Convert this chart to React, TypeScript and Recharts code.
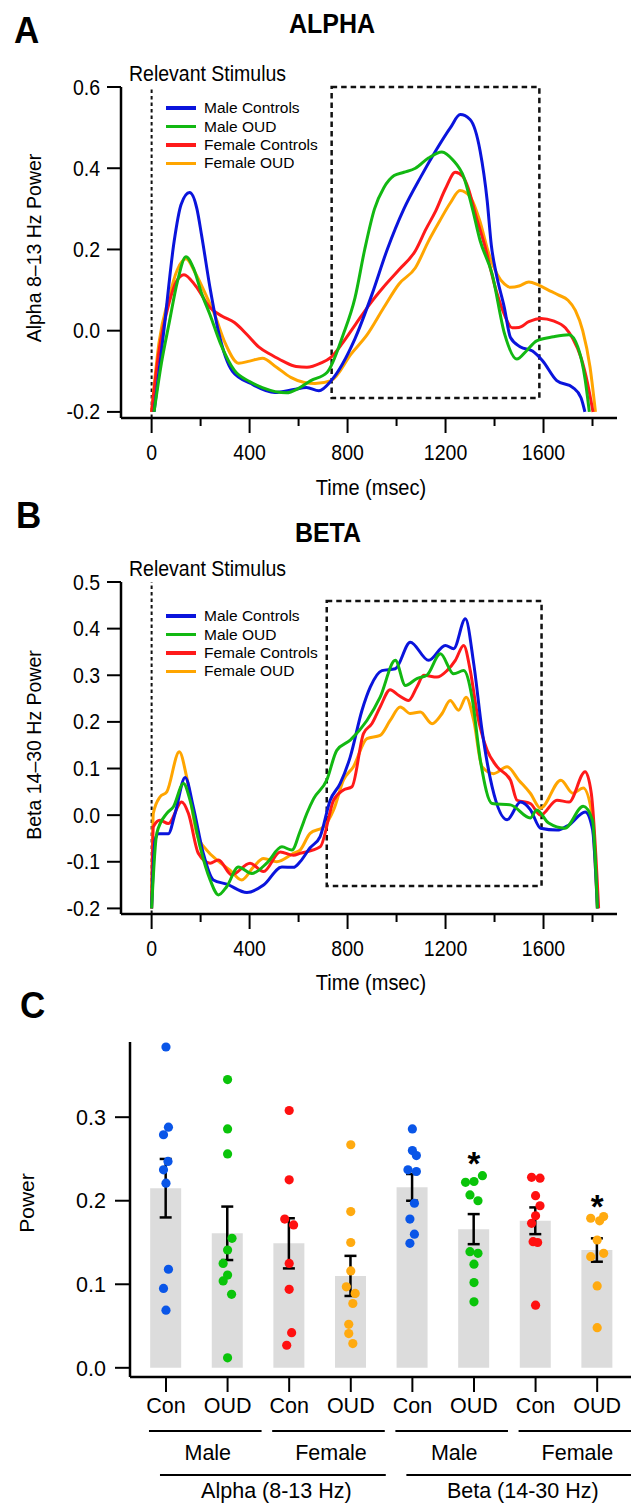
import React from "react";
import {
  LineChart,
  Line,
  XAxis,
  YAxis,
  ReferenceLine,
  ReferenceArea,
  Legend,
  ComposedChart,
  Bar,
  ErrorBar,
  Scatter,
} from "recharts";

const FONT = "'Liberation Sans', Arial, Helvetica, sans-serif";

// ---- shared ----
const groupNames = ["Male Controls", "Male OUD", "Female Controls", "Female OUD"];
const lineColors = ["#0a14dc", "#12b812", "#ff1a1a", "#ffa500"];
const timeTicks = [0, 200, 400, 600, 800, 1000, 1200, 1400, 1600, 1800];

// ---- panel A (alpha), [msec, power] ----
const alphaMaleCon = [
  [10, -0.2], [50, 0.0], [92, 0.22], [120, 0.31], [155, 0.34], [185, 0.3], [204, 0.235],
  [240, 0.1], [272, 0.0], [330, -0.1], [405, -0.13], [503, -0.152], [580, -0.145],
  [632, -0.14], [683, -0.148], [733, -0.123], [830, -0.02], [900, 0.09], [962, 0.2],
  [1030, 0.3], [1100, 0.38], [1160, 0.443], [1220, 0.5], [1260, 0.532], [1300, 0.52],
  [1341, 0.443], [1370, 0.32], [1387, 0.21], [1407, 0.14], [1440, 0.057], [1465, -0.017],
  [1506, -0.04], [1555, -0.05], [1596, -0.074], [1654, -0.123], [1720, -0.14],
  [1753, -0.165], [1769, -0.2],
];
const alphaMaleOud = [
  [10, -0.2], [40, -0.08], [72, 0.02], [105, 0.12], [140, 0.182], [170, 0.155], [205, 0.09],
  [238, 0.04], [280, -0.03], [338, -0.098], [400, -0.125], [452, -0.14], [551, -0.153],
  [600, -0.142], [650, -0.123], [716, -0.103], [782, -0.01], [830, 0.08], [870, 0.2],
  [910, 0.3], [948, 0.352], [990, 0.382], [1030, 0.39], [1077, 0.4], [1130, 0.425],
  [1185, 0.44], [1230, 0.42], [1275, 0.377], [1310, 0.3], [1341, 0.222], [1390, 0.14],
  [1441, -0.008], [1491, -0.07], [1530, -0.05], [1572, -0.025], [1640, -0.015],
  [1704, -0.01], [1740, -0.04], [1770, -0.12], [1787, -0.2],
];
const alphaFemCon = [
  [0, -0.2], [30, -0.05], [72, 0.07], [100, 0.12], [132, 0.138], [180, 0.11], [238, 0.057],
  [290, 0.035], [338, 0.02], [390, -0.01], [437, -0.04], [490, -0.06], [536, -0.075],
  [590, -0.088], [634, -0.09], [690, -0.08], [733, -0.065], [780, -0.03], [832, 0.015],
  [890, 0.065], [946, 0.107], [1010, 0.15], [1077, 0.197], [1120, 0.25], [1160, 0.295],
  [1200, 0.35], [1240, 0.39], [1270, 0.38], [1292, 0.352], [1325, 0.28], [1358, 0.214],
  [1407, 0.098], [1440, 0.04], [1472, 0.007], [1500, 0.008], [1540, 0.022], [1590, 0.03],
  [1640, 0.024], [1689, 0.007], [1720, -0.02], [1753, -0.066], [1780, -0.13], [1802, -0.2],
];
const alphaFemOud = [
  [0, -0.2], [30, -0.03], [70, 0.08], [105, 0.15], [140, 0.177], [180, 0.14], [220, 0.09],
  [257, 0.04], [300, -0.03], [355, -0.08], [400, -0.075], [452, -0.068], [510, -0.09],
  [568, -0.115], [620, -0.127], [667, -0.13], [733, -0.123], [815, -0.057], [880, -0.01],
  [948, 0.057], [1010, 0.115], [1077, 0.155], [1130, 0.22], [1176, 0.27], [1220, 0.315],
  [1259, 0.345], [1300, 0.33], [1340, 0.27], [1373, 0.197], [1410, 0.14], [1440, 0.115],
  [1466, 0.107], [1500, 0.11], [1540, 0.12], [1580, 0.112], [1620, 0.1], [1660, 0.088],
  [1700, 0.075], [1730, 0.05], [1760, 0.0], [1790, -0.09], [1812, -0.2],
];

// ---- panel B (beta), [msec, power] ----
const betaMaleCon = [
  [0, -0.2], [14, -0.054], [27, -0.04], [68, -0.04], [96, 0.004], [137, 0.081], [170, 0.018],
  [211, -0.082], [252, -0.139], [307, -0.148], [389, -0.166], [457, -0.15], [532, -0.111],
  [579, -0.112], [606, -0.1], [647, -0.07], [688, -0.046], [729, 0.032], [770, 0.068],
  [811, 0.125], [859, 0.225], [893, 0.275], [940, 0.31], [995, 0.314], [1056, 0.371],
  [1131, 0.332], [1199, 0.364], [1233, 0.357], [1281, 0.421], [1315, 0.325], [1349, 0.182],
  [1390, 0.061], [1451, -0.01], [1506, 0.028], [1546, 0.012], [1588, -0.028],
  [1655, -0.032], [1704, -0.021], [1770, 0.007], [1800, -0.03], [1820, -0.2],
];
const betaMaleOud = [
  [0, -0.2], [21, -0.039], [62, 0.004], [89, 0.018], [130, 0.068], [157, 0.032],
  [198, -0.068], [239, -0.139], [273, -0.171], [307, -0.153], [354, -0.111], [409, -0.125],
  [470, -0.103], [532, -0.068], [573, -0.075], [606, -0.035], [634, 0.004], [661, 0.035],
  [715, 0.075], [756, 0.139], [811, 0.161], [879, 0.203], [933, 0.253], [995, 0.332],
  [1036, 0.278], [1083, 0.293], [1124, 0.3], [1179, 0.346], [1233, 0.303], [1274, 0.31],
  [1308, 0.253], [1342, 0.118], [1390, 0.025], [1465, 0.022], [1546, -0.006], [1572, 0.011],
  [1621, -0.017], [1687, -0.028], [1762, 0.019], [1800, -0.011], [1820, -0.2],
];
const betaFemCon = [
  [0, -0.2], [7, -0.025], [34, -0.011], [68, -0.018], [123, 0.028], [150, 0.004],
  [191, -0.082], [239, -0.103], [273, -0.096], [327, -0.128], [402, -0.103], [457, -0.121],
  [525, -0.079], [579, -0.086], [606, -0.082], [688, -0.068], [743, 0.032], [783, 0.054],
  [818, 0.061], [865, 0.175], [899, 0.196], [933, 0.232], [974, 0.269], [1008, 0.257],
  [1049, 0.246], [1083, 0.275], [1111, 0.3], [1165, 0.296], [1206, 0.31], [1240, 0.332],
  [1274, 0.364], [1301, 0.31], [1329, 0.218], [1370, 0.139], [1410, 0.104], [1465, 0.075],
  [1492, 0.032], [1546, 0.025], [1588, 0.0], [1655, 0.032], [1704, 0.028], [1770, 0.093],
  [1795, 0.047], [1825, -0.2],
];
const betaFemOud = [
  [0, -0.2], [7, 0.004], [34, 0.039], [62, 0.05], [113, 0.136], [143, 0.082], [184, -0.039],
  [225, -0.075], [266, -0.096], [320, -0.118], [368, -0.139], [416, -0.111], [457, -0.093],
  [511, -0.1], [579, -0.082], [606, -0.075], [647, -0.039], [702, -0.025], [743, 0.011],
  [783, 0.075], [824, 0.104], [879, 0.164], [933, 0.171], [974, 0.203], [1015, 0.232],
  [1056, 0.218], [1097, 0.221], [1145, 0.196], [1186, 0.218], [1219, 0.246], [1253, 0.225],
  [1284, 0.253], [1315, 0.203], [1349, 0.104], [1396, 0.089], [1451, 0.104], [1499, 0.075],
  [1546, 0.047], [1588, 0.015], [1671, 0.075], [1720, 0.047], [1762, 0.058], [1795, 0.011],
  [1820, -0.2],
];

// ---- panel C ----
const barLabels = ["Con", "OUD", "Con", "OUD", "Con", "OUD", "Con", "OUD"];
const sexLabels = ["Male", "Female", "Male", "Female"];
const bandLabels = ["Alpha (8-13 Hz)", "Beta (14-30 Hz)"];
const barMeans = [0.215, 0.161, 0.149, 0.11, 0.216, 0.166, 0.176, 0.141];
const barSem = [0.035, 0.032, 0.03, 0.024, 0.016, 0.018, 0.016, 0.014];
const dotColors = ["#0a56e8", "#0ac40a", "#ff1010", "#ffaa10", "#0a56e8", "#0ac40a", "#ff1010", "#ffaa10"];

// individual subjects: value, horizontal jitter (in bar units)
const alphaMaleConDots = [0.384, 0.288, 0.279, 0.247, 0.237, 0.221, 0.118, 0.095, 0.069];
const alphaMaleConJit = [0, 0.04, -0.04, 0.033, -0.04, 0, 0.04, -0.04, 0];
const alphaMaleOudDots = [0.345, 0.286, 0.256, 0.155, 0.141, 0.125, 0.111, 0.104, 0.088, 0.012];
const alphaMaleOudJit = [0, 0, 0, 0.072, 0, -0.072, 0, -0.072, 0.065, 0];
const alphaFemConDots = [0.308, 0.225, 0.178, 0.171, 0.125, 0.094, 0.042, 0.027];
const alphaFemConJit = [0, 0, -0.072, 0.072, 0, 0, 0.04, -0.04];
const alphaFemOudDots = [0.267, 0.187, 0.15, 0.116, 0.097, 0.089, 0.077, 0.052, 0.041, 0.029];
const alphaFemOudJit = [0, 0, 0, 0, -0.072, 0.072, 0.033, -0.033, -0.033, 0.033];
const betaMaleConDots = [0.286, 0.26, 0.254, 0.237, 0.235, 0.197, 0.178, 0.16, 0.149];
const betaMaleConJit = [0, 0, 0.065, -0.072, 0.065, 0.033, -0.04, 0.033, -0.04];
const betaMaleOudDots = [0.222, 0.223, 0.23, 0.207, 0.2, 0.139, 0.137, 0.124, 0.102, 0.079];
const betaMaleOudJit = [-0.137, 0, 0.137, -0.065, 0.065, -0.065, 0.065, 0, 0, 0];
const betaFemConDots = [0.228, 0.227, 0.206, 0.194, 0.182, 0.173, 0.151, 0.15, 0.075];
const betaFemConJit = [-0.065, 0.072, 0, 0.072, 0, -0.065, -0.04, 0.033, 0];
const betaFemOudDots = [0.179, 0.181, 0.176, 0.153, 0.133, 0.137, 0.098, 0.048];
const betaFemOudJit = [-0.105, 0.105, 0.04, 0, -0.105, 0.105, 0, 0];

const starBars = [5, 7];
const starLevels = [0.254, 0.202];

const dotGroups = [
  [alphaMaleConDots, alphaMaleConJit],
  [alphaMaleOudDots, alphaMaleOudJit],
  [alphaFemConDots, alphaFemConJit],
  [alphaFemOudDots, alphaFemOudJit],
  [betaMaleConDots, betaMaleConJit],
  [betaMaleOudDots, betaMaleOudJit],
  [betaFemConDots, betaFemConJit],
  [betaFemOudDots, betaFemOudJit],
];

const barRows = barMeans.map((mean, i) => ({ x: i, mean, sem: barSem[i] }));
const starRows = starBars.map((x, i) => ({ x, y: starLevels[i] }));
const toRows = (pts: number[][]) => pts.map(([t, v]) => ({ t, v }));

// text helper (source figure is slightly taller than wide)
function SText({ x, y, size, anchor = "start", weight = "normal", sy = 1, rotate = 0, children }: any) {
  return (
    <text
      transform={`translate(${x},${y}) rotate(${rotate}) scale(1,${sy})`}
      fontSize={size}
      fontFamily={FONT}
      fontWeight={weight}
      textAnchor={anchor}
      fill="#000"
    >
      {children}
    </text>
  );
}

const TimeTick = (p: any) => {
  const major = p.payload.value % 400 === 0;
  return (
    <g>
      <line x1={p.x} x2={p.x} y1={p.y} y2={p.y + (major ? 15 : 8)} stroke="#000" strokeWidth={2} />
      {major && (
        <SText x={p.x} y={p.y + 42} size={19.5} sy={1.12} anchor="middle">
          {p.payload.value}
        </SText>
      )}
    </g>
  );
};

const ValueTick = (p: any) => (
  <g>
    <line x1={p.x - 14} x2={p.x} y1={p.y} y2={p.y} stroke="#000" strokeWidth={2} />
    <SText x={p.x - 21} y={p.y + 7.5} size={19.5} sy={1.12} anchor="end">
      {Number(p.payload.value).toFixed(1)}
    </SText>
  </g>
);

const TraceLegend = () => (
  <div style={{ fontFamily: FONT }}>
    {groupNames.map((n, i) => (
      <div key={n} style={{ display: "flex", alignItems: "center", height: 18.4 }}>
        <span style={{ display: "inline-block", width: 30, height: 3.5, background: lineColors[i], marginRight: 8 }} />
        <span style={{ fontSize: 15.5, color: "#000", whiteSpace: "nowrap" }}>{n}</span>
      </div>
    ))}
  </div>
);

const drawOrder = [3, 2, 0, 1];

function TracePanel({ top, series, yDomain, yTicks, box, plotTop, plotBottom, legendTop }: any) {
  const H = 500;
  const XH = 60;
  return (
    <div style={{ position: "absolute", left: 0, top, width: 632, height: H }}>
      <LineChart
        width={632}
        height={H}
        margin={{ top: plotTop, right: 15, bottom: H - plotBottom - XH, left: 0 }}
      >
        <XAxis
          type="number"
          dataKey="t"
          domain={[-125, 1900]}
          ticks={timeTicks}
          interval={0}
          allowDataOverflow
          height={XH}
          tickSize={0}
          tickMargin={0}
          tickLine={false}
          axisLine={{ stroke: "#000", strokeWidth: 2.5 }}
          tick={(p: any) => <TimeTick {...p} />}
        />
        <YAxis
          type="number"
          domain={yDomain}
          ticks={yTicks}
          interval={0}
          allowDataOverflow
          width={121}
          tickSize={0}
          tickMargin={0}
          tickLine={false}
          axisLine={{ stroke: "#000", strokeWidth: 2.5 }}
          tick={(p: any) => <ValueTick {...p} />}
        />
        <ReferenceLine x={0} stroke="#111" strokeWidth={2} strokeDasharray="3.5 3" />
        <ReferenceArea
          x1={box[0]}
          x2={box[1]}
          y1={box[2]}
          y2={box[3]}
          fill="none"
          fillOpacity={0}
          stroke="#111"
          strokeWidth={2.5}
          strokeDasharray="5.5 4"
          ifOverflow="visible"
        />
        {drawOrder.map((i) => (
          <Line
            key={groupNames[i]}
            data={toRows(series[i])}
            dataKey="v"
            name={groupNames[i]}
            type="monotone"
            stroke={lineColors[i]}
            strokeWidth={3}
            dot={false}
            activeDot={false}
            isAnimationActive={false}
          />
        ))}
        <Legend
          layout="vertical"
          align="center"
          verticalAlign="middle"
          wrapperStyle={{ left: 166, top: legendTop, width: 200, height: 74 }}
          content={() => <TraceLegend />}
        />
      </LineChart>
    </div>
  );
}

// panel C geometry: bar step in px (plot width / domain span)
const C_DOMAIN = [-0.584, 7.549];
const C_LEFT = 130;
const C_RIGHT = 631;
const STEP = (C_RIGHT - C_LEFT) / (C_DOMAIN[1] - C_DOMAIN[0]);

const CatTick = (p: any) => {
  const i = p.payload.value;
  const x = p.x;
  const y = p.y;
  return (
    <g>
      <line x1={x} x2={x} y1={y} y2={y + 15} stroke="#000" strokeWidth={2} />
      <SText x={x} y={y + 36} size={21.5} anchor="middle">
        {barLabels[i]}
      </SText>
      {i % 2 === 0 && (
        <g>
          <line x1={x - 17} x2={Math.min(x + STEP + 34, C_RIGHT)} y1={y + 54} y2={y + 54} stroke="#000" strokeWidth={2} />
          <SText x={x + STEP / 2 + 11} y={y + 83} size={21.5} anchor="middle">
            {sexLabels[i / 2]}
          </SText>
        </g>
      )}
      {i % 4 === 0 && (
        <g>
          <line x1={x - 6} x2={Math.min(x + 3 * STEP + 35, C_RIGHT)} y1={y + 98} y2={y + 98} stroke="#000" strokeWidth={2} />
          <SText x={x + 1.5 * STEP + 18} y={y + 121} size={21.5} anchor="middle">
            {bandLabels[i / 4]}
          </SText>
        </g>
      )}
    </g>
  );
};

const PowerTick = (p: any) => (
  <g>
    <line x1={p.x - 15} x2={p.x} y1={p.y} y2={p.y} stroke="#000" strokeWidth={2} />
    <SText x={p.x - 24} y={p.y + 7.7} size={21.5} anchor="end">
      {Number(p.payload.value).toFixed(1)}
    </SText>
  </g>
);

function BarPanel() {
  const H = 503;
  const XH = 60;
  return (
    <div style={{ position: "absolute", left: 0, top: 1000, width: 632, height: H }}>
      <ComposedChart
        width={632}
        height={H}
        data={barRows}
        margin={{ top: 42, right: 632 - C_RIGHT, bottom: H - 377 - XH, left: 0 }}
      >
        <XAxis
          xAxisId="cat"
          type="number"
          dataKey="x"
          domain={C_DOMAIN}
          ticks={[0, 1, 2, 3, 4, 5, 6, 7]}
          interval={0}
          allowDataOverflow
          height={XH}
          tickSize={0}
          tickMargin={0}
          tickLine={false}
          axisLine={{ stroke: "#000", strokeWidth: 2.5 }}
          tick={(p: any) => <CatTick {...p} />}
        />
        {/* same scale for the individual subjects, kept off the bar axis */}
        <XAxis xAxisId="dots" type="number" dataKey="x" domain={C_DOMAIN} allowDataOverflow hide />
        <YAxis
          type="number"
          domain={[-0.011, 0.39]}
          ticks={[0, 0.1, 0.2, 0.3]}
          interval={0}
          allowDataOverflow
          width={C_LEFT}
          tickSize={0}
          tickMargin={0}
          tickLine={false}
          axisLine={{ stroke: "#000", strokeWidth: 2.5 }}
          tick={(p: any) => <PowerTick {...p} />}
        />
        <Bar xAxisId="cat" dataKey="mean" fill="#dcdcdc" barSize={31} isAnimationActive={false}>
          <ErrorBar dataKey="sem" width={6} strokeWidth={2.5} stroke="#000" direction="y" />
        </Bar>
        {dotGroups.map(([vals, jit], i) => (
          <Scatter
            key={i}
            xAxisId="dots"
            data={vals.map((v, j) => ({ x: i + jit[j], y: v }))}
            dataKey="y"
            fill={dotColors[i]}
            isAnimationActive={false}
            shape={(s: any) => <circle cx={s.cx} cy={s.cy} r={4.6} fill={dotColors[i]} />}
          />
        ))}
        <Scatter
          xAxisId="dots"
          data={starRows}
          dataKey="y"
          isAnimationActive={false}
          shape={(s: any) => (
            <SText x={s.cx} y={s.cy + 19} size={33} weight="bold" anchor="middle">
              *
            </SText>
          )}
        />
      </ComposedChart>
    </div>
  );
}

export default function App() {
  return (
    <div
      style={{
        position: "absolute",
        left: 0,
        top: 0,
        width: 632,
        height: 1503,
        background: "#fff",
        overflow: "hidden",
        fontFamily: FONT,
      }}
    >
      <TracePanel
        top={0}
        series={[alphaMaleCon, alphaMaleOud, alphaFemCon, alphaFemOud]}
        yDomain={[-0.215, 0.6]}
        yTicks={[-0.2, 0, 0.2, 0.4, 0.6]}
        box={[735, 1583, -0.166, 0.6]}
        plotTop={87}
        plotBottom={418}
        legendTop={99}
      />
      <TracePanel
        top={500}
        series={[betaMaleCon, betaMaleOud, betaFemCon, betaFemOud]}
        yDomain={[-0.212, 0.5]}
        yTicks={[-0.2, -0.1, 0, 0.1, 0.2, 0.3, 0.4, 0.5]}
        box={[715, 1592, -0.152, 0.459]}
        plotTop={82}
        plotBottom={414}
        legendTop={107}
      />
      <BarPanel />
      <svg
        width={632}
        height={1503}
        style={{ position: "absolute", left: 0, top: 0, pointerEvents: "none" }}
      >
        <SText x={14} y={43} size={35} weight="bold" sy={1.08}>A</SText>
        <SText x={332} y={33} size={25} weight="bold" sy={1.1} anchor="middle">ALPHA</SText>
        <SText x={129} y={81} size={19.5} sy={1.12}>Relevant Stimulus</SText>
        <SText x={371} y={495} size={20} sy={1.12} anchor="middle">Time (msec)</SText>
        <SText x={41} y={248} size={19.5} rotate={-90} anchor="middle">Alpha 8–13 Hz Power</SText>

        <SText x={16} y={528} size={35} weight="bold" sy={1.08}>B</SText>
        <SText x={328} y={542} size={25} weight="bold" sy={1.1} anchor="middle">BETA</SText>
        <SText x={129} y={576} size={19.5} sy={1.12}>Relevant Stimulus</SText>
        <SText x={371} y={990} size={20} sy={1.12} anchor="middle">Time (msec)</SText>
        <SText x={41} y={745} size={19.5} rotate={-90} anchor="middle">Beta 14–30 Hz Power</SText>

        <SText x={20} y={1018} size={35} weight="bold" sy={1.08}>C</SText>
        <SText x={34} y={1203} size={21} rotate={-90} anchor="middle">Power</SText>
      </svg>
    </div>
  );
}
